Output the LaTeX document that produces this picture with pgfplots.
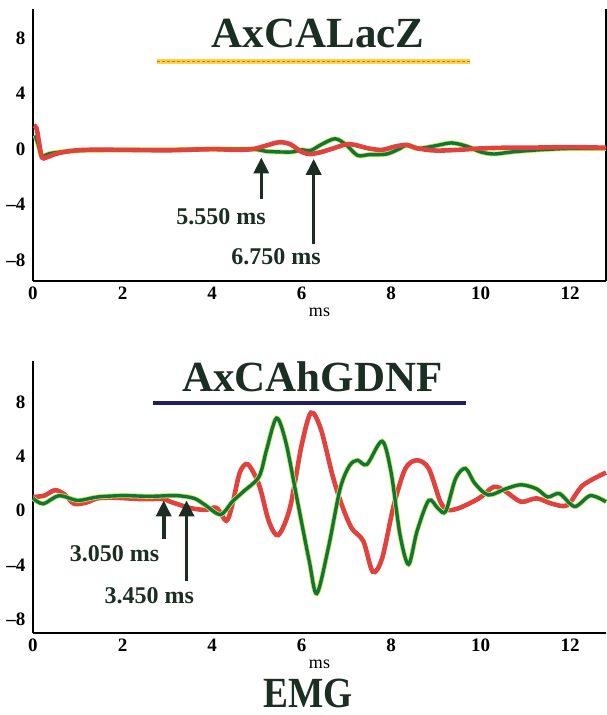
\documentclass[border=0pt]{standalone}
\usepackage{pgfplots}
\pgfplotsset{compat=1.18}
\usepackage{pgfplotstable}
\usepackage{fontspec}
\setmainfont{Liberation Serif}
\usetikzlibrary{arrows.meta}

\definecolor{tracered}{RGB}{224,66,62}
\definecolor{tracegreen}{RGB}{14,116,66}
\definecolor{halo}{RGB}{214,232,60}
\definecolor{inkdark}{RGB}{26,46,36}
\definecolor{navyline}{RGB}{32,30,92}
\definecolor{goldline}{RGB}{250,214,60}

% top panel (AxCALacZ)
\pgfplotstableread{
x y
0.02 1.7
0.08 1.5
0.14 0.4
0.20 -0.6
0.30 -0.6
0.50 -0.35
0.80 -0.15
1.20 -0.05
2.00 -0.05
3.00 -0.08
4.00 0.0
4.50 -0.05
4.90 0.0
5.20 0.25
5.50 0.5
5.75 0.35
6.00 -0.2
6.20 -0.35
6.45 -0.2
6.70 0.05
7.00 0.35
7.20 0.3
7.50 0.05
7.80 -0.05
8.10 0.2
8.35 0.3
8.60 0.05
9.00 -0.1
9.50 -0.05
10.00 0.05
10.50 0.1
11.00 0.1
12.00 0.15
12.80 0.1
}\lacred
\pgfplotstableread{
x y
0.05 1.0
0.12 0.3
0.20 -0.5
0.40 -0.3
1.00 -0.1
2.00 -0.05
3.00 -0.05
4.00 0.0
4.90 0.0
5.20 -0.15
5.50 -0.2
5.80 -0.2
6.00 -0.05
6.20 -0.1
6.45 0.35
6.75 0.75
7.00 0.3
7.25 -0.45
7.50 -0.4
7.90 -0.35
8.20 0.05
8.35 0.3
8.60 0.05
9.00 0.25
9.35 0.45
9.70 0.2
10.00 -0.2
10.30 -0.35
10.70 -0.2
11.30 -0.05
12.00 0.05
12.80 0.05
}\lacgreen

% bottom panel (AxCAhGDNF)
\pgfplotstableread{
x y
0.00 1.0
0.25 1.1
0.49 1.5
0.70 1.2
0.92 0.5
1.20 0.6
1.44 0.9
1.80 0.95
2.40 0.85
2.90 0.85
3.07 0.65
3.50 0.2
3.85 0.05
4.10 0.2
4.32 -0.75
4.45 0.4
4.62 2.8
4.80 3.4
5.05 1.9
5.27 -0.8
5.48 -1.8
5.74 0.2
6.00 4.8
6.21 7.2
6.43 6.0
6.69 2.6
6.90 0.4
7.12 -1.3
7.38 -2.25
7.59 -4.5
7.80 -3.5
8.06 0.4
8.32 3.1
8.58 3.7
8.84 3.1
9.10 0.65
9.27 0.05
9.53 0.2
9.96 0.9
10.30 1.75
10.56 1.4
10.90 0.65
11.25 0.9
11.60 0.5
11.94 0.4
12.28 1.85
12.80 2.8
}\gdnfred
\pgfplotstableread{
x y
0.00 0.9
0.23 0.5
0.58 1.1
1.00 0.75
1.44 1.0
2.00 1.1
2.60 1.05
3.20 1.1
3.60 0.9
3.85 0.4
4.19 -0.3
4.45 0.65
4.70 1.4
5.05 2.5
5.22 4.5
5.44 6.8
5.65 5.0
5.91 0.65
6.17 -3.7
6.34 -6.1
6.60 -2.7
6.86 1.6
7.07 3.3
7.25 3.7
7.46 3.4
7.80 5.1
8.00 2.8
8.20 -1.8
8.39 -3.95
8.58 -1.5
8.84 0.75
9.05 0.15
9.22 -0.05
9.44 2.35
9.66 3.1
9.87 2.0
10.17 1.15
10.56 1.6
10.90 1.9
11.25 1.6
11.50 1.0
11.76 1.25
12.10 0.3
12.45 1.1
12.80 0.65
}\gdnfgreen

\pgfplotsset{emgaxis/.style={
  scale only axis, width=573pt, height=272pt,
  xmin=0, xmax=12.8,
  axis x line=bottom, axis y line=left,
  axis line style={line width=2.4pt, black, -},
  xtick={0,2,...,12}, ytick={-8,-4,0,4,8},
  yticklabels={--8,--4,0,4,8},
  major tick length=0pt,
  tick label style={font=\fontsize{19}{20}\selectfont\bfseries},
  /pgf/number format/assume math mode=true,
  yticklabel style={xshift=-4pt},
  xticklabel style={yshift=-2pt},
  xlabel={ms},
  xlabel style={font=\fontsize{18}{18}\selectfont, yshift=-4pt, inner sep=1pt},
  clip=false,
}}

\begin{document}
\begin{tikzpicture}[x=1pt,y=1pt]
\useasboundingbox (0,0) rectangle (606,715);

\begin{axis}[emgaxis, at={(33pt,434pt)}, anchor=south west,
  ymin=-9.5, ymax=10.1, axis y line=box]
  \addplot[halo, line width=5pt, smooth, tension=0.5] table {\lacgreen};
  \addplot[tracegreen, line width=3.4pt, smooth, tension=0.5] table {\lacgreen};
  \addplot[tracered, line width=4.6pt, smooth, tension=0.5] table {\lacred};
  \node[font=\fontsize{43}{45}\selectfont\bfseries, text=inkdark]
    at (axis cs:6.37,8.3) {AxCALacZ};
  \draw[goldline, line width=5pt] (axis cs:2.77,6.3) -- (axis cs:9.76,6.3);
  \draw[tracered!80!goldline, line width=1.4pt, dash pattern=on 3pt off 2pt]
    (axis cs:2.77,6.3) -- (axis cs:9.76,6.3);
  \draw[inkdark, line width=3.6pt, -{Triangle[width=15pt,length=16pt]}]
    (axis cs:5.1,-3.6) -- (axis cs:5.1,-0.6);
  \draw[inkdark, line width=3.6pt, -{Triangle[width=15pt,length=16pt]}]
    (axis cs:6.27,-6.8) -- (axis cs:6.27,-0.7);
  \node[font=\fontsize{24}{26}\selectfont\bfseries, text=inkdark]
    at (axis cs:4.2,-4.9) {5.550 ms};
  \node[font=\fontsize{24}{26}\selectfont\bfseries, text=inkdark]
    at (axis cs:5.43,-7.75) {6.750 ms};
\end{axis}

\begin{axis}[emgaxis, at={(33pt,82pt)}, anchor=south west,
  ymin=-9, ymax=11]
  \addplot[tracered, line width=4.6pt, smooth, tension=0.5] table {\gdnfred};
  \addplot[halo, line width=5pt, smooth, tension=0.5] table {\gdnfgreen};
  \addplot[tracegreen, line width=3.4pt, smooth, tension=0.5] table {\gdnfgreen};
  \node[font=\fontsize{43}{45}\selectfont\bfseries, text=inkdark]
    at (axis cs:6.24,9.85) {AxCAhGDNF};
  \draw[navyline, line width=4pt] (axis cs:2.68,7.9) -- (axis cs:9.67,7.9);
  \draw[inkdark, line width=3.6pt, -{Triangle[width=15pt,length=16pt]}]
    (axis cs:2.92,-2.1) -- (axis cs:2.92,0.75);
  \draw[inkdark, line width=3.6pt, -{Triangle[width=15pt,length=16pt]}]
    (axis cs:3.43,-5.15) -- (axis cs:3.43,0.75);
  \node[font=\fontsize{24}{26}\selectfont\bfseries, text=inkdark]
    at (axis cs:1.82,-3.2) {3.050 ms};
  \node[font=\fontsize{24}{26}\selectfont\bfseries, text=inkdark]
    at (axis cs:2.6,-6.25) {3.450 ms};
\end{axis}

\node[font=\fontsize{43}{44}\selectfont\bfseries, text=inkdark,
  anchor=base, inner sep=0pt] at (308,7)
  {\scalebox{0.87}[1]{EMG}};
\end{tikzpicture}
\end{document}
